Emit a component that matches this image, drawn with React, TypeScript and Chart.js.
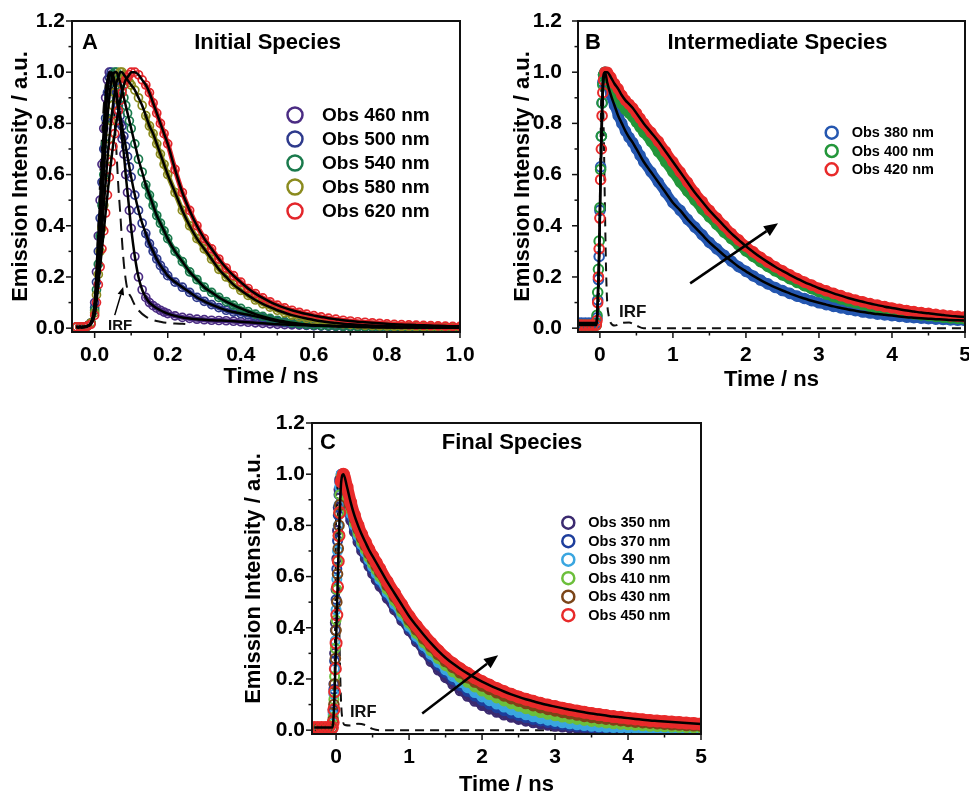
import React, { useEffect, useRef } from 'react';
import { Chart, registerables } from 'chart.js';
Chart.register(...registerables);

const FONT = '"Liberation Sans", Arial, Helvetica, sans-serif';

// ---------------- Panel A data ----------------
const tA = [-0.05, -0.04, -0.03, -0.02, -0.01, 0,
  0.005, 0.01, 0.015, 0.02, 0.025, 0.03, 0.035, 0.04, 0.045, 0.05, 0.055, 0.06, 0.065, 0.07, 0.075, 0.08, 0.085, 0.09, 0.095, 0.1,
  0.11, 0.12, 0.13, 0.14, 0.15, 0.16, 0.17, 0.18, 0.19, 0.2,
  0.22, 0.24, 0.26, 0.28, 0.3, 0.32, 0.34, 0.36, 0.38, 0.4, 0.42, 0.44, 0.46, 0.48, 0.5, 0.52, 0.54, 0.56, 0.58, 0.6,
  0.62, 0.64, 0.66, 0.68, 0.7, 0.72, 0.74, 0.76, 0.78, 0.8, 0.82, 0.84, 0.86, 0.88, 0.9, 0.92, 0.94, 0.96, 0.98, 1.0];
const a460 = [0.005, 0.005, 0.005, 0.008, 0.02, 0.1,
  0.22, 0.36, 0.5, 0.64, 0.78, 0.9, 0.97, 1.0, 0.99, 0.97, 0.94, 0.9, 0.85, 0.8, 0.74, 0.68, 0.6, 0.53, 0.46, 0.39,
  0.28, 0.2, 0.15, 0.12, 0.1, 0.088, 0.078, 0.07, 0.063, 0.057,
  0.048, 0.042, 0.038, 0.035, 0.033, 0.031, 0.03, 0.029, 0.027, 0.025, 0.023, 0.021, 0.019, 0.017, 0.015, 0.014, 0.013, 0.012, 0.011, 0.01,
  0.009, 0.009, 0.008, 0.008, 0.007, 0.007, 0.006, 0.006, 0.005, 0.005, 0.005, 0.004, 0.004, 0.004, 0.004, 0.003, 0.003, 0.003, 0.003, 0.003];
const a500 = [0.005, 0.005, 0.005, 0.008, 0.02, 0.08,
  0.18, 0.3, 0.43, 0.57, 0.7, 0.82, 0.92, 0.98, 1.0, 0.99, 0.96, 0.92, 0.87, 0.83, 0.79, 0.75, 0.71, 0.67, 0.63, 0.59,
  0.52, 0.46, 0.41, 0.37, 0.33, 0.3, 0.27, 0.245, 0.225, 0.205,
  0.18, 0.16, 0.14, 0.12, 0.105, 0.092, 0.08, 0.07, 0.063, 0.057, 0.052, 0.046, 0.04, 0.033, 0.027, 0.022, 0.018, 0.015, 0.012, 0.01,
  0.009, 0.008, 0.007, 0.006, 0.006, 0.005, 0.005, 0.004, 0.004, 0.004, 0.003, 0.003, 0.003, 0.003, 0.002, 0.002, 0.002, 0.002, 0.002, 0.002];
const a540 = [0.005, 0.005, 0.005, 0.008, 0.02, 0.07,
  0.15, 0.25, 0.36, 0.48, 0.6, 0.72, 0.82, 0.9, 0.96, 0.99, 1.0, 1.0, 0.98, 0.96, 0.93, 0.9, 0.87, 0.84, 0.81, 0.78,
  0.72, 0.66, 0.61, 0.56, 0.52, 0.48, 0.44, 0.41, 0.38, 0.35,
  0.3, 0.26, 0.22, 0.19, 0.16, 0.14, 0.12, 0.104, 0.09, 0.077, 0.065, 0.055, 0.046, 0.038, 0.031, 0.026, 0.021, 0.017, 0.014, 0.012,
  0.01, 0.009, 0.008, 0.007, 0.006, 0.005, 0.005, 0.004, 0.004, 0.003, 0.003, 0.003, 0.003, 0.002, 0.002, 0.002, 0.002, 0.002, 0.002, 0.002];
const a580 = [0.005, 0.005, 0.005, 0.008, 0.02, 0.06,
  0.13, 0.21, 0.3, 0.39, 0.48, 0.57, 0.66, 0.74, 0.81, 0.87, 0.92, 0.96, 0.98, 1.0, 1.0, 0.99, 0.98, 0.97, 0.96, 0.95,
  0.93, 0.9, 0.87, 0.83, 0.79, 0.76, 0.72, 0.68, 0.64, 0.6,
  0.53, 0.46, 0.4, 0.35, 0.31, 0.27, 0.23, 0.2, 0.17, 0.148, 0.128, 0.11, 0.095, 0.082, 0.07, 0.06, 0.051, 0.044, 0.038, 0.032,
  0.027, 0.023, 0.02, 0.017, 0.015, 0.013, 0.011, 0.01, 0.009, 0.008, 0.007, 0.006, 0.006, 0.005, 0.005, 0.004, 0.004, 0.004, 0.003, 0.003];
const a620 = [0.005, 0.005, 0.005, 0.008, 0.015, 0.05,
  0.1, 0.17, 0.24, 0.31, 0.38, 0.45, 0.52, 0.59, 0.65, 0.71, 0.76, 0.81, 0.85, 0.89, 0.92, 0.95, 0.97, 0.98, 0.99, 1.0,
  1.0, 0.99, 0.97, 0.95, 0.92, 0.88, 0.84, 0.8, 0.76, 0.72,
  0.62, 0.53, 0.46, 0.4, 0.35, 0.31, 0.27, 0.235, 0.205, 0.18, 0.155, 0.135, 0.118, 0.103, 0.09, 0.079, 0.07, 0.062, 0.055, 0.049,
  0.044, 0.039, 0.035, 0.031, 0.028, 0.025, 0.023, 0.021, 0.019, 0.017, 0.015, 0.014, 0.013, 0.012, 0.011, 0.01, 0.009, 0.008, 0.007, 0.007];
const tIrfA = [-0.05, -0.02, -0.01, 0, 0.01, 0.02, 0.03, 0.04, 0.05, 0.06, 0.065, 0.07, 0.075, 0.08, 0.085, 0.09, 0.1, 0.11, 0.12, 0.14, 0.16, 0.18, 0.2, 0.22, 0.24, 0.26];
const irfA = [0, 0, 0.01, 0.1, 0.4, 0.75, 0.95, 1.0, 0.9, 0.68, 0.55, 0.45, 0.34, 0.25, 0.19, 0.15, 0.12, 0.09, 0.07, 0.045, 0.032, 0.025, 0.02, 0.018, 0.017, 0.016];

// ---------------- Panels B / C time grid ----------------
const tBC = [-0.3, -0.25, -0.2, -0.15, -0.1, -0.05,
  -0.04, -0.03, -0.02, -0.01, 0, 0.01, 0.02, 0.03, 0.04, 0.05,
  0.07, 0.1,
  0.15, 0.2, 0.25, 0.3, 0.35, 0.4, 0.45, 0.5, 0.55, 0.6,
  0.7, 0.8, 0.9, 1.0,
  1.1, 1.2, 1.3, 1.4, 1.5, 1.6, 1.7, 1.8, 1.9, 2.0,
  2.1, 2.2, 2.3, 2.4, 2.5, 2.6, 2.7, 2.8, 2.9, 3.0,
  3.1, 3.2, 3.3, 3.4, 3.5, 3.6, 3.7, 3.8, 3.9, 4.0,
  4.1, 4.2, 4.3, 4.4, 4.5, 4.6, 4.7, 4.8, 4.9, 5.0];

// ---------------- Panel B data ----------------
const b380 = [0.02, 0.02, 0.02, 0.02, 0.02, 0.02,
  0.04, 0.11, 0.19, 0.28, 0.46, 0.63, 0.75, 0.88, 0.96, 0.99,
  1.0, 0.96,
  0.91, 0.87, 0.83, 0.8, 0.77, 0.745, 0.725, 0.7, 0.675, 0.65,
  0.61, 0.57, 0.53, 0.49,
  0.46, 0.425, 0.395, 0.365, 0.335, 0.31, 0.285, 0.262, 0.24, 0.222,
  0.204, 0.188, 0.173, 0.159, 0.147, 0.136, 0.125, 0.116, 0.107, 0.099,
  0.092, 0.085, 0.079, 0.073, 0.068, 0.063, 0.059, 0.055, 0.052, 0.049,
  0.046, 0.043, 0.041, 0.039, 0.037, 0.035, 0.034, 0.032, 0.031, 0.03];
const b400 = [0.012, 0.012, 0.012, 0.012, 0.012, 0.012,
  0.05, 0.14, 0.23, 0.34, 0.47, 0.62, 0.75, 0.88, 0.95, 0.99,
  1.0, 0.98,
  0.95, 0.925, 0.9, 0.875, 0.855, 0.84, 0.825, 0.805, 0.785, 0.765,
  0.73, 0.69, 0.65, 0.61,
  0.57, 0.535, 0.5, 0.465, 0.435, 0.405, 0.375, 0.35, 0.325, 0.302,
  0.28, 0.26, 0.241, 0.224, 0.208, 0.193, 0.179, 0.166, 0.154, 0.143,
  0.133, 0.123, 0.114, 0.106, 0.099, 0.092, 0.085, 0.079, 0.074, 0.069,
  0.064, 0.06, 0.056, 0.052, 0.049, 0.046, 0.043, 0.04, 0.038, 0.036];
const b420 = [0.012, 0.012, 0.012, 0.012, 0.012, 0.012,
  0.03, 0.1, 0.2, 0.31, 0.43, 0.58, 0.7, 0.83, 0.92, 0.97,
  1.0, 1.0,
  0.98, 0.955, 0.935, 0.91, 0.89, 0.875, 0.86, 0.84, 0.82, 0.8,
  0.765, 0.73, 0.69, 0.65,
  0.61, 0.57, 0.53, 0.495, 0.46, 0.43, 0.4, 0.37, 0.345, 0.32,
  0.298, 0.277, 0.258, 0.24, 0.224, 0.208, 0.194, 0.18, 0.168, 0.156,
  0.146, 0.136, 0.127, 0.118, 0.11, 0.103, 0.096, 0.09, 0.084, 0.079,
  0.074, 0.069, 0.065, 0.061, 0.058, 0.054, 0.051, 0.048, 0.046, 0.044];
const tIrfB = [-0.3, -0.05, -0.02, 0, 0.02, 0.03, 0.05, 0.07, 0.085, 0.1, 0.12, 0.15, 0.2, 0.3, 0.4, 0.5, 0.6, 1, 2, 3, 4, 5];
const irfB = [0, 0, 0.05, 0.5, 0.95, 1.0, 0.8, 0.45, 0.22, 0.1, 0.05, 0.02, 0.01, 0.02, 0.022, 0.01, 0, 0, 0, 0, 0, 0];

// ---------------- Panel C data ----------------
const c350 = [0.005, 0.005, 0.005, 0.005, 0.005, 0.005,
  0.08, 0.18, 0.3, 0.42, 0.55, 0.67, 0.78, 0.87, 0.94, 0.98,
  0.99, 0.94,
  0.87, 0.82, 0.775, 0.735, 0.7, 0.67, 0.64, 0.612, 0.586, 0.562,
  0.515, 0.47, 0.428, 0.388,
  0.345, 0.305, 0.268, 0.235, 0.205, 0.178, 0.154, 0.132, 0.113, 0.096,
  0.082, 0.07, 0.059, 0.05, 0.042, 0.035, 0.029, 0.024, 0.019, 0.015,
  0.012, 0.009, 0.007, 0.005, 0.004, 0.003, 0.003, 0.002, 0.002, 0.002,
  0.002, 0.002, 0.002, 0.002, 0.002, 0.002, 0.002, 0.002, 0.002, 0.002];
const c370 = [0.006, 0.006, 0.006, 0.006, 0.006, 0.006,
  0.07, 0.16, 0.27, 0.39, 0.51, 0.63, 0.74, 0.84, 0.92, 0.97,
  1.0, 0.96,
  0.89, 0.835, 0.79, 0.75, 0.715, 0.685, 0.655, 0.628, 0.602, 0.578,
  0.53, 0.484, 0.44, 0.398,
  0.357, 0.32, 0.286, 0.254, 0.225, 0.198, 0.174, 0.152, 0.133, 0.116,
  0.101, 0.088, 0.076, 0.066, 0.057, 0.049, 0.042, 0.036, 0.03, 0.025,
  0.021, 0.017, 0.014, 0.012, 0.01, 0.008, 0.007, 0.006, 0.005, 0.004,
  0.004, 0.003, 0.003, 0.003, 0.002, 0.002, 0.002, 0.002, 0.002, 0.002];
const c390 = [0.006, 0.006, 0.006, 0.006, 0.006, 0.006,
  0.06, 0.14, 0.24, 0.35, 0.47, 0.59, 0.7, 0.8, 0.88, 0.95,
  1.0, 0.97,
  0.9, 0.845, 0.8, 0.76, 0.725, 0.695, 0.665, 0.638, 0.612, 0.588,
  0.538, 0.492, 0.448, 0.406,
  0.366, 0.33, 0.296, 0.265, 0.236, 0.21, 0.187, 0.166, 0.147, 0.13,
  0.115, 0.102, 0.09, 0.079, 0.069, 0.06, 0.052, 0.045, 0.039, 0.034,
  0.029, 0.025, 0.021, 0.018, 0.015, 0.013, 0.011, 0.01, 0.009, 0.008,
  0.007, 0.006, 0.006, 0.005, 0.005, 0.004, 0.004, 0.004, 0.003, 0.003];
const c410 = [0.007, 0.007, 0.007, 0.007, 0.007, 0.007,
  0.05, 0.12, 0.21, 0.32, 0.43, 0.55, 0.66, 0.76, 0.85, 0.92,
  0.99, 0.98,
  0.91, 0.86, 0.81, 0.77, 0.735, 0.705, 0.675, 0.65, 0.625, 0.6,
  0.55, 0.505, 0.46, 0.418,
  0.378, 0.342, 0.31, 0.28, 0.252, 0.228, 0.206, 0.187, 0.169, 0.153,
  0.139, 0.126, 0.114, 0.103, 0.093, 0.084, 0.076, 0.069, 0.062, 0.056,
  0.051, 0.046, 0.042, 0.038, 0.034, 0.031, 0.028, 0.025, 0.023, 0.021,
  0.019, 0.017, 0.015, 0.014, 0.013, 0.012, 0.011, 0.01, 0.009, 0.008];
const c430 = [0.008, 0.008, 0.008, 0.008, 0.008, 0.008,
  0.04, 0.1, 0.18, 0.28, 0.39, 0.5, 0.61, 0.71, 0.8, 0.88,
  0.98, 0.99,
  0.93, 0.875, 0.825, 0.785, 0.75, 0.72, 0.69, 0.665, 0.64, 0.615,
  0.565, 0.52, 0.475, 0.43,
  0.392, 0.357, 0.325, 0.295, 0.268, 0.245, 0.224, 0.205, 0.188, 0.173,
  0.159, 0.146, 0.134, 0.123, 0.113, 0.104, 0.096, 0.088, 0.081, 0.075,
  0.069, 0.064, 0.059, 0.054, 0.05, 0.046, 0.043, 0.04, 0.037, 0.034,
  0.031, 0.029, 0.027, 0.025, 0.023, 0.021, 0.02, 0.018, 0.017, 0.016];
const c450 = [0.01, 0.01, 0.01, 0.01, 0.01, 0.01,
  0.03, 0.08, 0.15, 0.24, 0.34, 0.45, 0.56, 0.66, 0.76, 0.85,
  0.97, 1.0,
  0.95, 0.89, 0.84, 0.8, 0.765, 0.735, 0.705, 0.68, 0.655, 0.63,
  0.58, 0.535, 0.49, 0.445,
  0.408, 0.373, 0.34, 0.31, 0.283, 0.26, 0.24, 0.222, 0.205, 0.19,
  0.176, 0.163, 0.151, 0.14, 0.13, 0.121, 0.113, 0.105, 0.098, 0.092,
  0.086, 0.08, 0.075, 0.07, 0.065, 0.061, 0.057, 0.053, 0.05, 0.047,
  0.044, 0.041, 0.038, 0.036, 0.034, 0.032, 0.03, 0.028, 0.026, 0.024];
const tIrfC = [-0.33, -0.05, -0.03, -0.01, 0, 0.01, 0.03, 0.05, 0.07, 0.09, 0.12, 0.2, 0.3, 0.4, 0.5, 0.6, 1, 2, 3, 4, 5];
const irfC = [0, 0, 0.05, 0.5, 0.85, 1.0, 0.7, 0.3, 0.1, 0.04, 0.02, 0.018, 0.025, 0.02, 0.005, 0, 0, 0, 0, 0, 0];

// ---------------- Ticks & labels ----------------
const yTicks = [0, 0.2, 0.4, 0.6, 0.8, 1.0, 1.2];
const yMinor = [0.1, 0.3, 0.5, 0.7, 0.9, 1.1];
const xTicksA = [0, 0.2, 0.4, 0.6, 0.8, 1.0];
const xMinorA = [0.1, 0.3, 0.5, 0.7, 0.9];
const xTicksBC = [0, 1, 2, 3, 4, 5];
const xMinorBC = [0.5, 1.5, 2.5, 3.5, 4.5];

const labelsA = ['Obs 460 nm', 'Obs 500 nm', 'Obs 540 nm', 'Obs 580 nm', 'Obs 620 nm'];
const labelsB = ['Obs 380 nm', 'Obs 400 nm', 'Obs 420 nm'];
const labelsC = ['Obs 350 nm', 'Obs 370 nm', 'Obs 390 nm', 'Obs 410 nm', 'Obs 430 nm', 'Obs 450 nm'];
const colorsA = ['#4b2c83', '#2e3a8c', '#1a7a4c', '#8b8b1e', '#e3262b'];
const colorsB = ['#2557b0', '#23963a', '#e82a2a'];
const colorsC = ['#3b2a70', '#1d3e9c', '#3aa6e0', '#6cbf3b', '#7b4518', '#e82a2a'];

const Y_TITLE = 'Emission Intensity / a.u.';
const X_TITLE = 'Time / ns';

// ---------------- helpers ----------------
const mk = (xs: number[], ys: number[]) => xs.map((x, i) => ({ x, y: ys[i] }));

function scatterDs(label: string, xs: number[], ys: number[], color: string, order: number, r: number, bw: number) {
  return {
    type: 'scatter', label, data: mk(xs, ys), showLine: false,
    pointStyle: 'circle', pointRadius: r, pointHoverRadius: r, pointBorderWidth: bw,
    pointBorderColor: color, pointBackgroundColor: 'rgba(255,255,255,0)',
    borderColor: color, backgroundColor: 'rgba(255,255,255,0)', order,
  };
}
// solid colour core under the overlapping circles of a series' decay
function bandDs(xs: number[], ys: number[], from: number, color: string, order: number, w: number) {
  return {
    type: 'line', data: mk(xs.slice(from), ys.slice(from)), borderColor: color, borderWidth: w,
    borderCapStyle: 'round', borderJoinStyle: 'round',
    pointRadius: 0, fill: false, cubicInterpolationMode: 'monotone', order,
  };
}
function fitDs(xs: number[], ys: number[]) {
  return { type: 'line', data: mk(xs, ys), borderColor: '#000', borderWidth: 2.5, pointRadius: 0, fill: false, cubicInterpolationMode: 'monotone', order: 0 };
}
function irfDs(xs: number[], ys: number[], dash: number[]) {
  return { type: 'line', data: mk(xs, ys), borderColor: '#111', borderWidth: 2, borderDash: dash, pointRadius: 0, fill: false, cubicInterpolationMode: 'monotone', order: 50 };
}

type Panel = any;

const panels: Panel[] = [
  {
    id: 'A', left: 0, top: 0, width: 480, height: 400,
    padTop: 21, padRight: 20, yW: 72, xH: 68,
    xMin: -0.062, xMax: 1.0, xTicks: xTicksA, xMinor: xMinorA, xFmt: (v: number) => v.toFixed(1),
    yPad: 7, xPad: 11,
    letter: 'A', letterDX: 10, textDY: 22, title: 'Initial Species', titleDX: 195.5,
    yTitleDX: -51, xTitleDY: 51, xTitleDX: 5,
    legend: { labels: labelsA, colors: colorsA, cdx: 223, dy0: 94, step: 24, tdx: 250, r: 7.5, size: 19 },
    irf: { dx: 36, dyb: -2, size: 15 },
    arrow: { from: [0.055, 0.051], to: [0.078, 0.161], lw: 1.5, head: 8 },
    datasets: [
      irfDs(tIrfA, irfA, [12, 7]),
      bandDs(tA, a460, 29, colorsA[0], 6.5, 5),
      scatterDs(labelsA[0], tA, a460, colorsA[0], 6, 4, 1.7),
      bandDs(tA, a500, 29, colorsA[1], 5.5, 5),
      scatterDs(labelsA[1], tA, a500, colorsA[1], 5, 4, 1.7),
      bandDs(tA, a540, 29, colorsA[2], 4.5, 5),
      scatterDs(labelsA[2], tA, a540, colorsA[2], 4, 4, 1.7),
      bandDs(tA, a580, 29, colorsA[3], 3.5, 5),
      scatterDs(labelsA[3], tA, a580, colorsA[3], 3, 4, 1.7),
      bandDs(tA, a620, 29, colorsA[4], 2.5, 5),
      scatterDs(labelsA[4], tA, a620, colorsA[4], 2, 4, 1.7),
      fitDs(tA, a460), fitDs(tA, a500), fitDs(tA, a540), fitDs(tA, a580), fitDs(tA, a620),
    ],
  },
  {
    id: 'B', left: 480, top: 0, width: 520, height: 400,
    padTop: 21, padRight: 35, yW: 98, xH: 68,
    xMin: -0.3, xMax: 5, xTicks: xTicksBC, xMinor: xMinorBC, xFmt: (v: number) => String(v),
    yPad: 16, xPad: 11,
    letter: 'B', letterDX: 7, textDY: 22, title: 'Intermediate Species', titleDX: 199.5,
    yTitleDX: -55, xTitleDY: 53.7, xTitleDX: 0,
    legend: { labels: labelsB, colors: colorsB, cdx: 253.7, dy0: 111.7, step: 18.3, tdx: 273.7, r: 6, size: 14.5 },
    irf: { dx: 41, dyb: -15.3, size: 17 },
    arrow: { from: [1.236, 0.175], to: [2.44, 0.41], lw: 2.5, head: 14 },
    datasets: [
      irfDs(tIrfB, irfB, [9, 6]),
      bandDs(tBC, b380, 16, colorsB[0], 4.5, 10),
      scatterDs(labelsB[0], tBC, b380, colorsB[0], 4, 4.8, 2),
      bandDs(tBC, b400, 16, colorsB[1], 3.5, 10),
      scatterDs(labelsB[1], tBC, b400, colorsB[1], 3, 4.8, 2),
      bandDs(tBC, b420, 16, colorsB[2], 2.5, 10),
      scatterDs(labelsB[2], tBC, b420, colorsB[2], 2, 4.8, 2),
      fitDs(tBC, b380), fitDs(tBC, b420),
    ],
  },
  {
    id: 'C', left: 240, top: 400, width: 480, height: 391,
    padTop: 23, padRight: 19, yW: 72, xH: 57,
    xMin: -0.33, xMax: 5, xTicks: xTicksBC, xMinor: xMinorBC, xFmt: (v: number) => String(v),
    yPad: 7, xPad: 11,
    letter: 'C', letterDX: 8, textDY: 20, title: 'Final Species', titleDX: 200,
    yTitleDX: -58, xTitleDY: 56.5, xTitleDX: 0,
    legend: { labels: labelsC, colors: colorsC, cdx: 256.3, dy0: 99.7, step: 18.5, tdx: 276.3, r: 6, size: 14.5 },
    irf: { dx: 38, dyb: -17.3, size: 16.5 },
    arrow: { from: [1.18, 0.065], to: [2.22, 0.293], lw: 2.5, head: 14 },
    datasets: [
      irfDs(tIrfC, irfC, [9, 6]),
      bandDs(tBC, c350, 16, colorsC[0], 7.5, 8),
      scatterDs(labelsC[0], tBC, c350, colorsC[0], 7, 4.5, 2),
      bandDs(tBC, c370, 16, colorsC[1], 6.5, 8),
      scatterDs(labelsC[1], tBC, c370, colorsC[1], 6, 4.5, 2),
      bandDs(tBC, c390, 16, colorsC[2], 5.5, 8),
      scatterDs(labelsC[2], tBC, c390, colorsC[2], 5, 4.5, 2),
      bandDs(tBC, c410, 16, colorsC[3], 4.5, 8),
      scatterDs(labelsC[3], tBC, c410, colorsC[3], 4, 4.5, 2),
      bandDs(tBC, c430, 16, colorsC[4], 3.5, 9),
      scatterDs(labelsC[4], tBC, c430, colorsC[4], 3, 4.8, 2),
      bandDs(tBC, c450, 16, colorsC[5], 2.5, 12),
      scatterDs(labelsC[5], tBC, c450, colorsC[5], 2, 5.5, 2),
      fitDs(tBC, c450),
    ],
  },
];

function decorPlugin(p: Panel) {
  return {
    id: 'decor' + p.id,
    afterDraw(chart: any) {
      const ctx: CanvasRenderingContext2D = chart.ctx;
      const a = chart.chartArea;
      const xs = chart.scales.x;
      const ys = chart.scales.y;
      ctx.save();
      ctx.strokeStyle = '#111';
      ctx.fillStyle = '#000';
      const line = (x1: number, y1: number, x2: number, y2: number) => {
        ctx.beginPath(); ctx.moveTo(x1, y1); ctx.lineTo(x2, y2); ctx.stroke();
      };
      ctx.lineWidth = 1.5;
      p.xTicks.forEach((v: number) => { const x = xs.getPixelForValue(v); line(x, a.bottom, x, a.bottom + 6); });
      p.xMinor.forEach((v: number) => { const x = xs.getPixelForValue(v); line(x, a.bottom, x, a.bottom + 3.5); });
      yTicks.forEach((v) => { const y = ys.getPixelForValue(v); line(a.left, y, a.left - 6, y); });
      yMinor.forEach((v) => { const y = ys.getPixelForValue(v); line(a.left, y, a.left - 3.5, y); });
      ctx.lineWidth = 2;
      ctx.strokeRect(a.left, a.top, a.right - a.left, a.bottom - a.top);

      ctx.font = `bold 22px ${FONT}`;
      ctx.textAlign = 'center';
      ctx.textBaseline = 'alphabetic';
      ctx.fillText(X_TITLE, (a.left + a.right) / 2 + p.xTitleDX, a.bottom + p.xTitleDY);
      ctx.save();
      ctx.translate(a.left + p.yTitleDX, (a.top + a.bottom) / 2);
      ctx.rotate(-Math.PI / 2);
      ctx.textBaseline = 'middle';
      ctx.fillText(Y_TITLE, 0, 0);
      ctx.restore();

      ctx.textBaseline = 'middle';
      ctx.textAlign = 'left';
      ctx.fillText(p.letter, a.left + p.letterDX, a.top + p.textDY);
      ctx.textAlign = 'center';
      ctx.fillText(p.title, a.left + p.titleDX, a.top + p.textDY);

      const lg = p.legend;
      ctx.font = `bold ${lg.size}px ${FONT}`;
      ctx.textAlign = 'left';
      lg.labels.forEach((lab: string, i: number) => {
        const cy = a.top + lg.dy0 + i * lg.step;
        ctx.strokeStyle = lg.colors[i];
        ctx.lineWidth = 2.5;
        ctx.beginPath(); ctx.arc(a.left + lg.cdx, cy, lg.r, 0, Math.PI * 2); ctx.stroke();
        ctx.fillStyle = '#000';
        ctx.fillText(lab, a.left + lg.tdx, cy + 0.5);
      });

      ctx.font = `bold ${p.irf.size}px ${FONT}`;
      ctx.textBaseline = 'alphabetic';
      ctx.fillStyle = '#111';
      ctx.fillText('IRF', a.left + p.irf.dx, a.bottom + p.irf.dyb);

      const ar = p.arrow;
      const x1 = xs.getPixelForValue(ar.from[0]), y1 = ys.getPixelForValue(ar.from[1]);
      const x2 = xs.getPixelForValue(ar.to[0]), y2 = ys.getPixelForValue(ar.to[1]);
      const ang = Math.atan2(y2 - y1, x2 - x1);
      const hl = ar.head, hw = ar.head * 0.42;
      const bx = x2 - hl * Math.cos(ang), by = y2 - hl * Math.sin(ang);
      ctx.strokeStyle = '#000';
      ctx.fillStyle = '#000';
      ctx.lineWidth = ar.lw;
      line(x1, y1, bx, by);
      ctx.beginPath();
      ctx.moveTo(x2, y2);
      ctx.lineTo(bx + hw * Math.sin(ang), by - hw * Math.cos(ang));
      ctx.lineTo(bx - hw * Math.sin(ang), by + hw * Math.cos(ang));
      ctx.closePath();
      ctx.fill();
      ctx.restore();
    },
  };
}

function buildConfig(p: Panel): any {
  const tickFont = { family: FONT, size: 21, weight: 'bold' };
  return {
    type: 'scatter',
    data: { datasets: p.datasets },
    options: {
      responsive: false,
      animation: false,
      devicePixelRatio: 1,
      events: [],
      layout: { padding: { left: 0, top: p.padTop, right: p.padRight, bottom: 0 } },
      plugins: { legend: { display: false }, tooltip: { enabled: false }, title: { display: false } },
      scales: {
        x: {
          type: 'linear', min: p.xMin, max: p.xMax,
          grid: { drawOnChartArea: false, drawTicks: false },
          border: { display: false },
          ticks: { font: tickFont, color: '#000', padding: p.xPad, autoSkip: false, maxRotation: 0, callback: (v: number) => p.xFmt(v) },
          afterBuildTicks: (s: any) => { s.ticks = p.xTicks.map((v: number) => ({ value: v })); },
          afterFit: (s: any) => { s.height = p.xH; s.paddingLeft = 0; s.paddingRight = 0; },
        },
        y: {
          type: 'linear', min: -0.015, max: 1.2,
          grid: { drawOnChartArea: false, drawTicks: false },
          border: { display: false },
          ticks: { font: tickFont, color: '#000', padding: p.yPad, autoSkip: false, callback: (v: number) => v.toFixed(1) },
          afterBuildTicks: (s: any) => { s.ticks = yTicks.map((v) => ({ value: v })); },
          afterFit: (s: any) => { s.width = p.yW; s.paddingTop = 0; s.paddingBottom = 0; },
        },
      },
    },
    plugins: [decorPlugin(p)],
  };
}

function PanelChart({ p }: { p: Panel }) {
  const ref = useRef<HTMLCanvasElement>(null);
  useEffect(() => {
    const chart = new Chart(ref.current as HTMLCanvasElement, buildConfig(p));
    return () => chart.destroy();
  }, [p]);
  return (
    <canvas
      ref={ref}
      width={p.width}
      height={p.height}
      style={{ position: 'absolute', left: p.left, top: p.top, width: p.width, height: p.height }}
    />
  );
}

export default function App() {
  return (
    <div style={{ position: 'absolute', left: 0, top: 0, width: 969, height: 791, overflow: 'hidden', background: '#fff' }}>
      {panels.map((p) => <PanelChart key={p.id} p={p} />)}
    </div>
  );
}
